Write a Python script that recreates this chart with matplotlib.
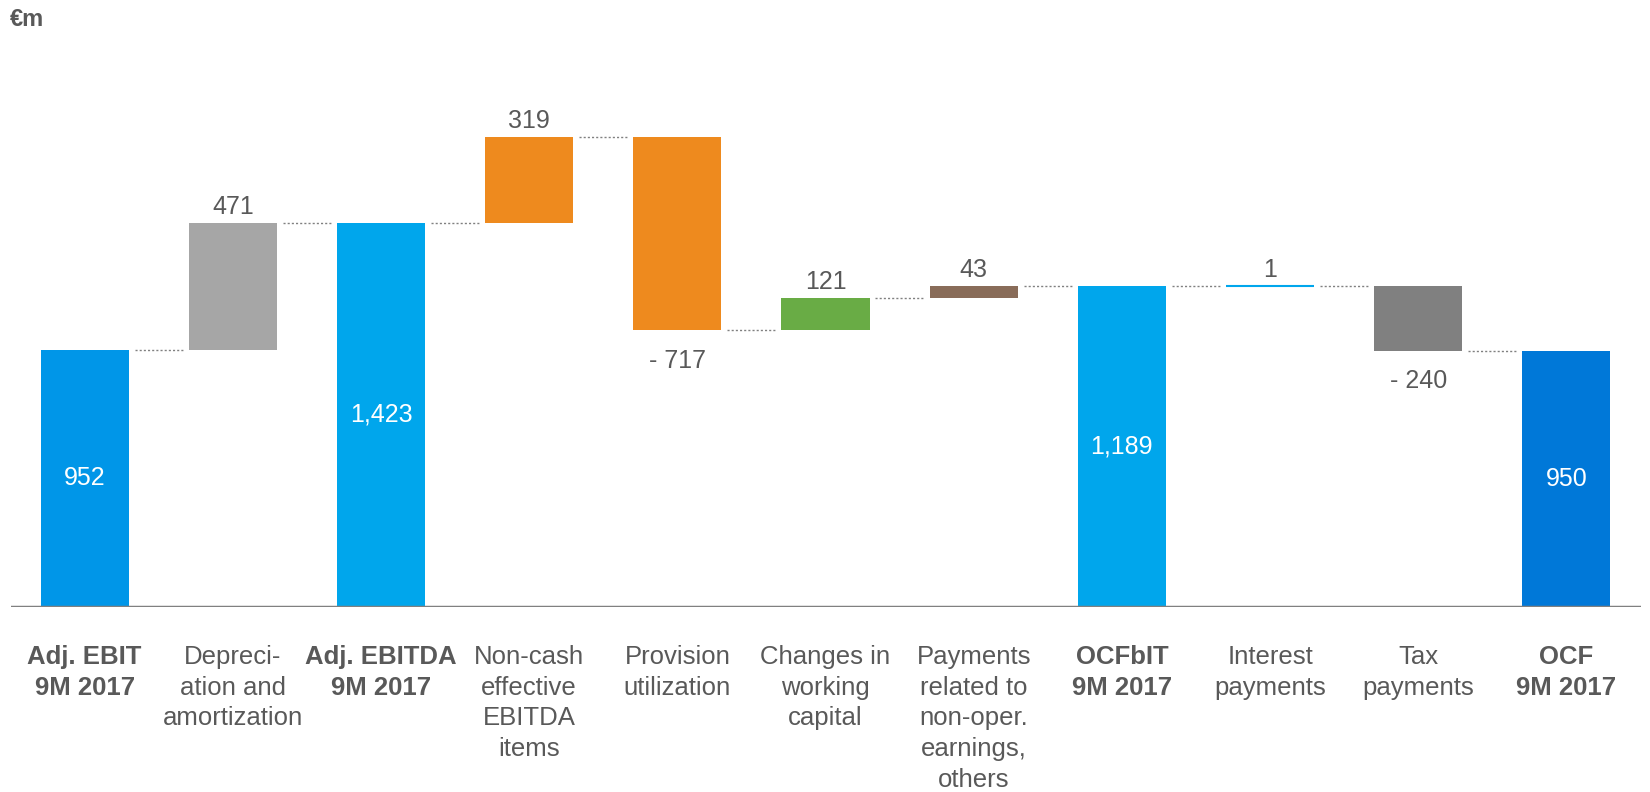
import matplotlib
matplotlib.use("Agg")
import matplotlib.pyplot as plt

plt.rcParams['font.family'] = ['Liberation Sans', 'DejaVu Sans']

categories = ["Adj. EBIT\n9M 2017", "Depreci-\nation and\namortization", "Adj. EBITDA\n9M 2017",
              "Non-cash\neffective\nEBITDA\nitems", "Provision\nutilization", "Changes in\nworking\ncapital",
              "Payments\nrelated to\nnon-oper.\nearnings,\nothers", "OCFbIT\n9M 2017", "Interest\npayments",
              "Tax\npayments", "OCF\n9M 2017"]
values = [952, 471, 1423, 319, -717, 121, 43, 1189, 1, -240, 950]
is_total = [True, False, True, False, False, False, False, True, False, False, True]
value_labels = ["952", "471", "1,423", "319", "- 717", "121", "43", "1,189", "1", "- 240", "950"]
colors = ["#0096E8", "#A6A6A6", "#00A6EC", "#EE8A1E", "#EE8A1E", "#69AC45", "#896C59",
          "#00A6EC", "#00A6EC", "#808080", "#0078D8"]

W, H = 1650, 792
fig = plt.figure(figsize=(W/100, H/100), dpi=100)
ax = fig.add_axes([10.5/W, 185/H, 1630/W, 594/H])
ax.set_xlim(-0.5, 10.5)
ax.set_ylim(0, 2200)
ax.axis('off')

txt = "#595959"
bw = 0.594
running = 0
tops = []
for i, (v, tot) in enumerate(zip(values, is_total)):
    if tot:
        bottom, height = 0, v
        running = v
    else:
        bottom = running if v >= 0 else running + v
        height = abs(v)
        running += v
    thin = height < 10
    ax.bar(i, height, bw, bottom=bottom, color=colors[i], edgecolor=colors[i],
           linewidth=1.5 if thin else 0, zorder=2)
    tops.append(running)
    if tot:
        ax.text(i, v/2, value_labels[i], ha='center', va='center', color='white', fontsize=18)
    elif v >= 0:
        ax.text(i, bottom + height + 15, value_labels[i], ha='center', va='bottom', color=txt, fontsize=18)
    else:
        ax.text(i, bottom - 70, value_labels[i], ha='center', va='top', color=txt, fontsize=18)

# connectors
for i in range(len(values) - 1):
    lvl = tops[i]
    ax.plot([i + bw/2 + 0.04, i + 1 - bw/2 - 0.04], [lvl, lvl], color="#808080", lw=1.0,
            linestyle=(0, (1.5, 1.5)), zorder=1)

ax.axhline(0, color="#808080", lw=2.5, zorder=3)

for i, c in enumerate(categories):
    ax.text(i, -140, c, ha='center', va='top', color=txt, fontsize=18.5,
            fontweight='bold' if is_total[i] else 'normal', linespacing=1.36)

fig.text(10/W, 1 - 19/H, "€m", ha='left', va='center', color=txt, fontsize=17, fontweight='bold')

fig.savefig("out.png", dpi=100)
